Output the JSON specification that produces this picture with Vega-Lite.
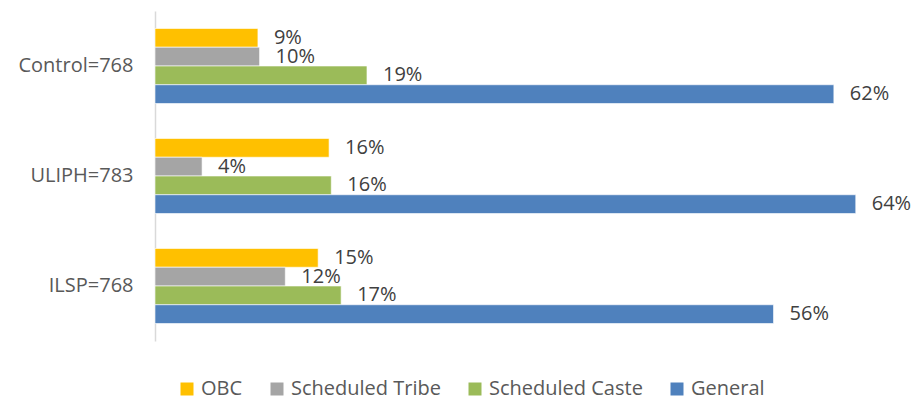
{
  "$schema": "https://vega.github.io/schema/vega-lite/v6.json",
  "width": 759,
  "height": 330,
  "autosize": {"type": "none"},
  "padding": {"left": 155, "top": 11, "right": 0, "bottom": 60},
  "config": {"view": {"stroke": null}, "font": "Open Sans"},
  "data": {
    "values": [
      {"group": "Control=768", "cat": "OBC", "value": 0.094},
      {"group": "Control=768", "cat": "Scheduled Tribe", "value": 0.0955},
      {"group": "Control=768", "cat": "Scheduled Caste", "value": 0.1936},
      {"group": "Control=768", "cat": "General", "value": 0.62},
      {"group": "ULIPH=783", "cat": "OBC", "value": 0.159},
      {"group": "ULIPH=783", "cat": "Scheduled Tribe", "value": 0.043},
      {"group": "ULIPH=783", "cat": "Scheduled Caste", "value": 0.161},
      {"group": "ULIPH=783", "cat": "General", "value": 0.64},
      {"group": "ILSP=768", "cat": "OBC", "value": 0.149},
      {"group": "ILSP=768", "cat": "Scheduled Tribe", "value": 0.119},
      {"group": "ILSP=768", "cat": "Scheduled Caste", "value": 0.17},
      {"group": "ILSP=768", "cat": "General", "value": 0.5649}
    ]
  },
  "encoding": {
    "y": {
      "field": "group",
      "type": "nominal",
      "sort": ["Control=768", "ULIPH=783", "ILSP=768"],
      "scale": {"paddingInner": 0.318, "paddingOuter": 0.159},
      "axis": {
        "title": null,
        "domainColor": "#D9D9D9",
        "domainWidth": 1.5,
        "ticks": false,
        "labelFontSize": 20,
        "labelColor": "#595959",
        "labelPadding": 22
      }
    },
    "yOffset": {
      "field": "cat",
      "type": "nominal",
      "sort": ["OBC", "Scheduled Tribe", "Scheduled Caste", "General"],
      "scale": {"paddingInner": 0, "paddingOuter": 0}
    },
    "x": {
      "field": "value",
      "type": "quantitative",
      "scale": {"domain": [0, 0.6932], "nice": false, "zero": true},
      "axis": null
    }
  },
  "layer": [
    {
      "mark": {"type": "bar", "stroke": "white", "strokeWidth": 0.6},
      "encoding": {
        "color": {
          "field": "cat",
          "type": "nominal",
          "sort": ["OBC", "Scheduled Tribe", "Scheduled Caste", "General"],
          "scale": {
            "domain": ["OBC", "Scheduled Tribe", "Scheduled Caste", "General"],
            "range": ["#FFC000", "#A5A5A5", "#9BBB59", "#4F81BD"]
          },
          "legend": {
            "title": null,
            "orient": "none",
            "legendX": 22,
            "legendY": 368,
            "direction": "horizontal",
            "symbolType": "square",
            "symbolSize": 169,
            "symbolStrokeWidth": 0,
            "columnPadding": 24,
            "labelFontSize": 20,
            "labelColor": "#595959",
            "labelOffset": 4
          }
        }
      }
    },
    {
      "mark": {"type": "text", "align": "left", "baseline": "middle", "dx": 16, "fontSize": 20, "color": "#404040"},
      "encoding": {
        "text": {"field": "value", "type": "quantitative", "format": ".0%"}
      }
    }
  ]
}
